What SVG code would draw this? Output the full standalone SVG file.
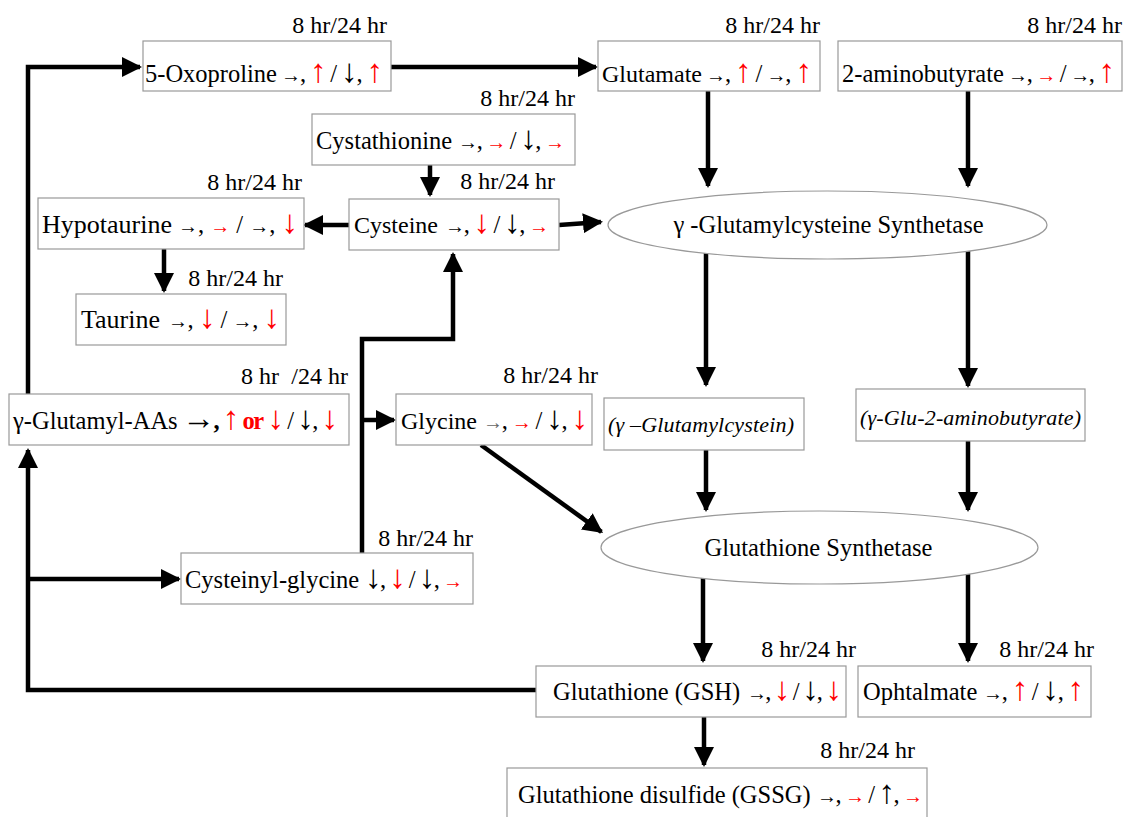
<svg xmlns="http://www.w3.org/2000/svg" width="1130" height="817" viewBox="0 0 1130 817">
<style>
.box{fill:#fff;stroke:#999;stroke-width:1.2}
.ell{fill:#fff;stroke:#999;stroke-width:1.2}
.t{font-family:"Liberation Serif","Times New Roman",serif;font-size:24.5px;fill:#000}
.e{font-family:"Liberation Serif","Times New Roman",serif;font-size:24.5px;fill:#000;text-anchor:middle}
.lab{font-family:"Liberation Serif","Times New Roman",serif;font-size:24px;fill:#000;text-anchor:end}
.r{fill:#ff0000}
.v{font-size:33px}
.s{font-size:20px}
.L{font-size:33px}
.g{fill:#666}
.b{font-weight:bold}
.it{font-family:"Liberation Serif","Times New Roman",serif;font-style:italic;font-size:22px;fill:#000}
.conn{fill:none;stroke:#000;stroke-width:4.5;stroke-linejoin:miter}
</style>
<defs>
<marker id="ah" markerUnits="userSpaceOnUse" markerWidth="20" markerHeight="20" viewBox="0 0 20 20" refX="18" refY="10" orient="auto">
<path d="M0,0 L20,10 L0,20 z" fill="#000"/>
</marker>
</defs>
<rect width="1130" height="817" fill="#fff"/>

<g id="connectors">
<path class="conn" d="M28,394 V67 H140" marker-end="url(#ah)"/>
<path class="conn" d="M391,67 H596" marker-end="url(#ah)"/>
<path class="conn" d="M708,91 V186" marker-end="url(#ah)"/>
<path class="conn" d="M968,91 V186" marker-end="url(#ah)"/>
<path class="conn" d="M430,165 V195" marker-end="url(#ah)"/>
<path class="conn" d="M349,225 H305" marker-end="url(#ah)"/>
<path class="conn" d="M559,225 L601,222" marker-end="url(#ah)"/>
<path class="conn" d="M164,249 V291" marker-end="url(#ah)"/>
<path class="conn" d="M706,253 V385" marker-end="url(#ah)"/>
<path class="conn" d="M968,251 V386" marker-end="url(#ah)"/>
<path class="conn" d="M706,450 V510" marker-end="url(#ah)"/>
<path class="conn" d="M968,441 V510" marker-end="url(#ah)"/>
<path class="conn" d="M481,445 L601.4,531.8" marker-end="url(#ah)"/>
<path class="conn" d="M362,553 V339 H453 V254" marker-end="url(#ah)"/>
<path class="conn" d="M362,420 H394" marker-end="url(#ah)"/>
<path class="conn" d="M536,690 H28 V450" marker-end="url(#ah)"/>
<path class="conn" d="M28,579 H179" marker-end="url(#ah)"/>
<path class="conn" d="M703,578 V661" marker-end="url(#ah)"/>
<path class="conn" d="M968,574 V661" marker-end="url(#ah)"/>
<path class="conn" d="M704,717 V765" marker-end="url(#ah)"/>
</g>

<g id="oxoproline">
<rect class="box" x="143" y="41" width="248" height="50"/>
<text class="lab" x="387" y="33">8 hr/24 hr</text>
<text class="t" x="145" y="82">5-Oxoproline</text>
<text class="t" x="281" y="82" textLength="102" lengthAdjust="spacing"><tspan class="s">→</tspan>, <tspan class="r v">↑</tspan> / <tspan class="v">↓</tspan>, <tspan class="r v">↑</tspan></text>
</g>

<g id="glutamate">
<rect class="box" x="598" y="41" width="222" height="50"/>
<text class="lab" x="820" y="33">8 hr/24 hr</text>
<text class="t" x="602" y="82" style="font-size:24px">Glutamate</text>
<text class="t" x="706" y="82" textLength="106" lengthAdjust="spacing"><tspan class="s">→</tspan>, <tspan class="r v">↑</tspan> / <tspan class="s">→</tspan>, <tspan class="r v">↑</tspan></text>
</g>

<g id="aminobutyrate">
<rect class="box" x="838" y="41" width="284" height="50"/>
<text class="lab" x="1122" y="33">8 hr/24 hr</text>
<text class="t" x="842" y="82">2-aminobutyrate</text>
<text class="t" x="1008" y="82" textLength="107" lengthAdjust="spacing"><tspan class="s">→</tspan>, <tspan class="r s">→</tspan> / <tspan class="s">→</tspan>, <tspan class="r v">↑</tspan></text>
</g>

<g id="cystathionine">
<rect class="box" x="312" y="114" width="263" height="51"/>
<text class="lab" x="575" y="106">8 hr/24 hr</text>
<text class="t" x="316" y="149">Cystathionine</text>
<text class="t" x="458" y="149" textLength="107" lengthAdjust="spacing"><tspan class="s">→</tspan>, <tspan class="r s">→</tspan> / <tspan class="v">↓</tspan>, <tspan class="r s">→</tspan></text>
</g>

<g id="cysteine">
<rect class="box" x="349" y="199" width="210" height="51"/>
<text class="lab" x="555" y="189">8 hr/24 hr</text>
<text class="t" x="354" y="233" style="font-size:24px">Cysteine</text>
<text class="t" x="445" y="233" textLength="104" lengthAdjust="spacing"><tspan class="s">→</tspan>, <tspan class="r v">↓</tspan> / <tspan class="v">↓</tspan>, <tspan class="r s">→</tspan></text>
</g>

<g id="hypotaurine">
<rect class="box" x="38" y="198" width="266" height="51"/>
<text class="lab" x="302" y="190">8 hr/24 hr</text>
<text class="t" x="42" y="233" style="font-size:26px">Hypotaurine</text>
<text class="t" x="178" y="233" textLength="120" lengthAdjust="spacing"><tspan class="s">→</tspan>, <tspan class="r s">→</tspan> / <tspan class="s">→</tspan>, <tspan class="r v">↓</tspan></text>
</g>

<g id="taurine">
<rect class="box" x="76" y="294" width="210" height="51"/>
<text class="lab" x="283" y="286">8 hr/24 hr</text>
<text class="t" x="81" y="328" style="font-size:26px">Taurine</text>
<text class="t" x="168" y="328" textLength="112" lengthAdjust="spacing"><tspan class="s">→</tspan>, <tspan class="r v">↓</tspan> / <tspan class="s">→</tspan>, <tspan class="r v">↓</tspan></text>
</g>

<g id="glutamyl-aas">
<rect class="box" x="9" y="394" width="340" height="51"/>
<text class="lab" x="279" y="384">8 hr</text>
<text class="lab" x="348" y="384">/24 hr</text>
<text class="t" x="13" y="429">γ-Glutamyl-AAs</text>
<text class="t" x="182" y="429" textLength="156" lengthAdjust="spacing"><tspan class="L">→</tspan><tspan class="b">,</tspan> <tspan class="r v">↑</tspan> <tspan class="r b">or</tspan> <tspan class="r v">↓</tspan> / <tspan class="v">↓</tspan>, <tspan class="r v">↓</tspan></text>
</g>

<g id="glycine">
<rect class="box" x="396" y="394" width="196" height="51"/>
<text class="lab" x="598" y="383">8 hr/24 hr</text>
<text class="t" x="401" y="429" style="font-size:24px">Glycine</text>
<text class="t" x="483" y="429" textLength="105" lengthAdjust="spacing"><tspan class="s g">→</tspan>, <tspan class="r s">→</tspan> / <tspan class="v">↓</tspan>, <tspan class="r v">↓</tspan></text>
</g>

<g id="gamma-glutamylcystein">
<rect class="box" x="604" y="398" width="200" height="52"/>
<text class="it" x="608" y="432" textLength="186" lengthAdjust="spacing">(γ –Glutamylcystein)</text>
</g>

<g id="gamma-glu-aminobutyrate">
<rect class="box" x="856" y="389" width="229" height="52"/>
<text class="it" x="860" y="425" textLength="221" lengthAdjust="spacing">(γ-Glu-2-aminobutyrate)</text>
</g>

<g id="gcs">
<ellipse class="ell" cx="827.5" cy="225" rx="219.5" ry="34"/>
<text class="e" x="828.5" y="233">γ -Glutamylcysteine Synthetase</text>
</g>

<g id="gs">
<ellipse class="ell" cx="819.5" cy="547.5" rx="218.5" ry="36.5"/>
<text class="e" x="818.5" y="556">Glutathione Synthetase</text>
</g>

<g id="cysteinyl-glycine">
<rect class="box" x="181" y="553" width="292" height="51"/>
<text class="lab" x="473" y="546">8 hr/24 hr</text>
<text class="t" x="185" y="588">Cysteinyl-glycine</text>
<text class="t" x="365" y="588" textLength="98" lengthAdjust="spacing"><tspan class="v">↓</tspan>, <tspan class="r v">↓</tspan> / <tspan class="v">↓</tspan>, <tspan class="r s">→</tspan></text>
</g>

<g id="gsh">
<rect class="box" x="536" y="666" width="310" height="51"/>
<text class="lab" x="856" y="657">8 hr/24 hr</text>
<text class="t" x="553" y="700">Glutathione (GSH)</text>
<text class="t" x="747" y="700" textLength="95" lengthAdjust="spacing"><tspan class="s">→</tspan>, <tspan class="r v">↓</tspan> / <tspan class="v">↓</tspan>, <tspan class="r v">↓</tspan></text>
</g>

<g id="ophtalmate">
<rect class="box" x="858" y="666" width="233" height="51"/>
<text class="lab" x="1094" y="657">8 hr/24 hr</text>
<text class="t" x="863" y="700">Ophtalmate</text>
<text class="t" x="983" y="700" textLength="101" lengthAdjust="spacing"><tspan class="s">→</tspan>, <tspan class="r v">↑</tspan> / <tspan class="v">↓</tspan>, <tspan class="r v">↑</tspan></text>
</g>

<g id="gssg">
<rect class="box" x="507" y="768" width="420" height="60"/>
<text class="lab" x="915" y="758">8 hr/24 hr</text>
<text class="t" x="518" y="803">Glutathione disulfide (GSSG)</text>
<text class="t" x="817" y="803" textLength="106" lengthAdjust="spacing"><tspan class="s">→</tspan>, <tspan class="r s">→</tspan> / <tspan class="v">↑</tspan>, <tspan class="r s">→</tspan></text>
</g>
</svg>
